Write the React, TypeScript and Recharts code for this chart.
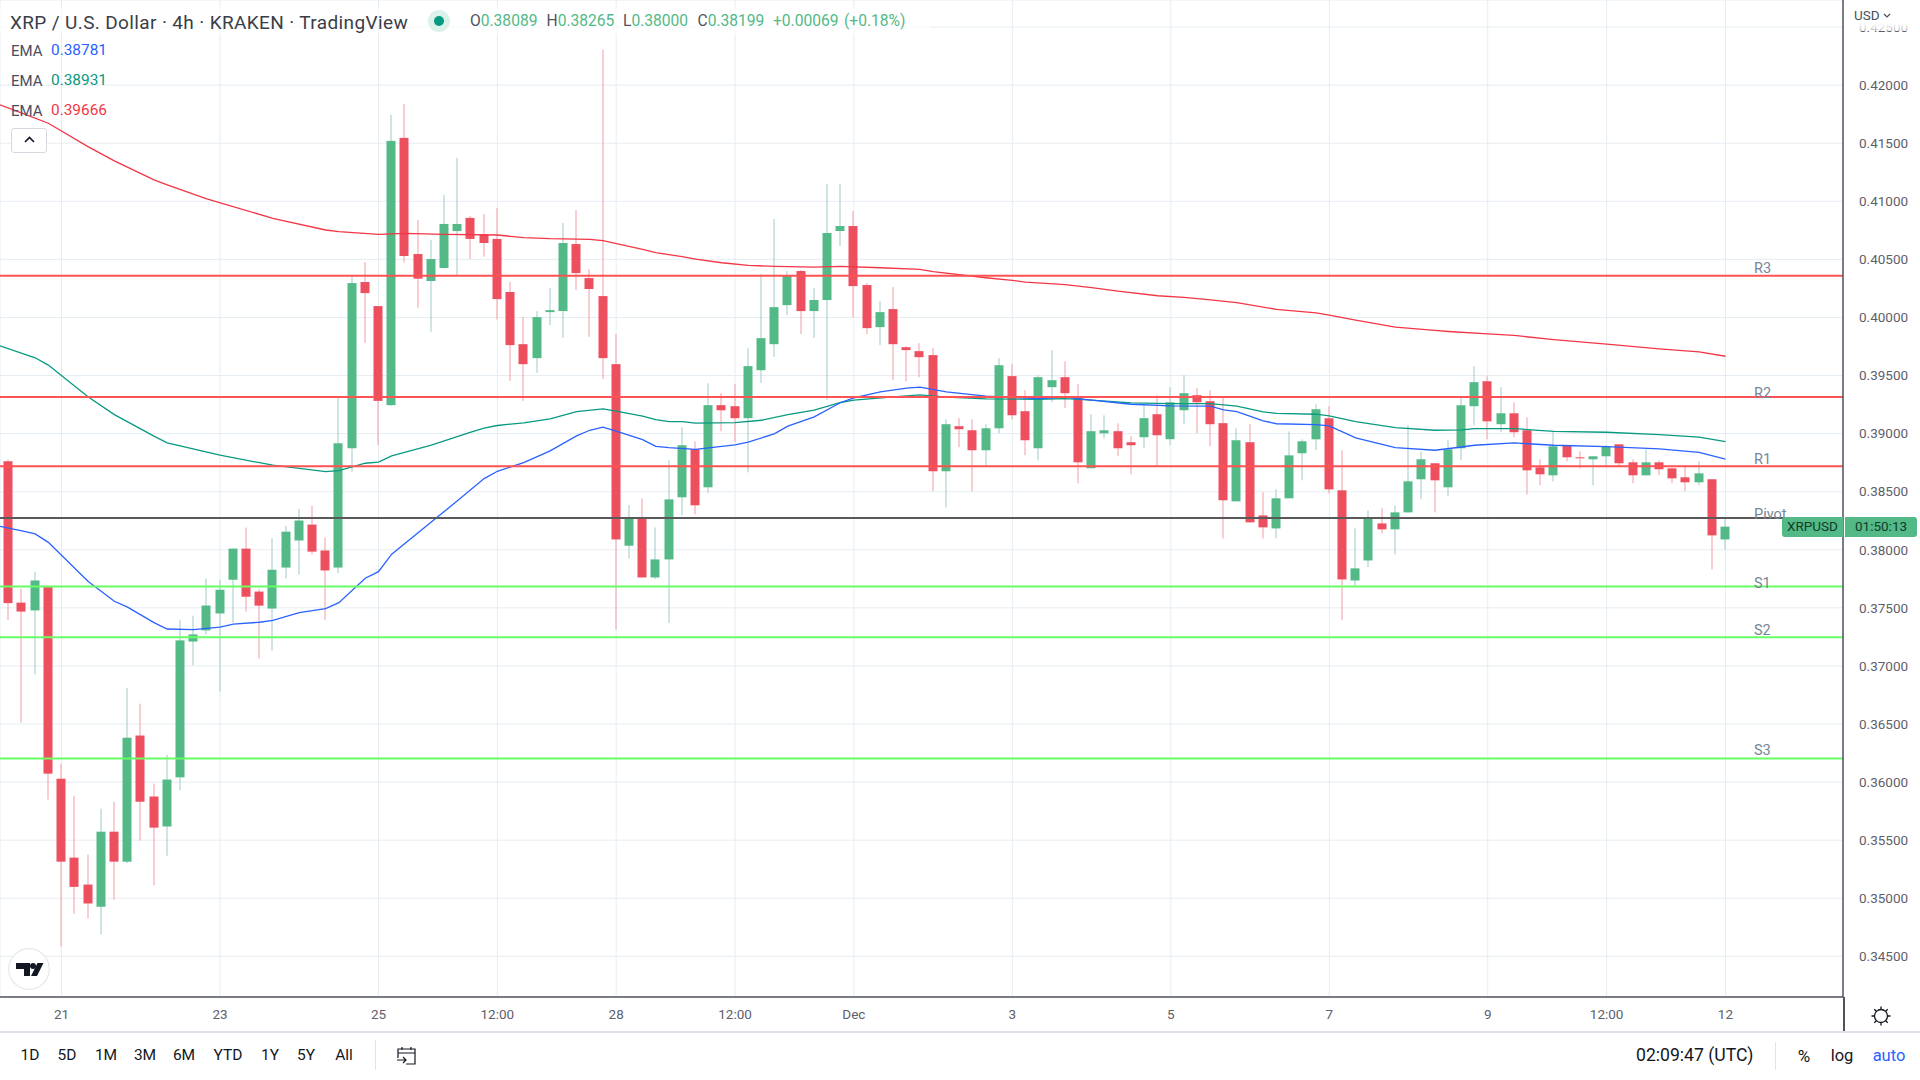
import React from 'react';
import {
  Bar,
  CartesianGrid,
  ComposedChart,
  Line,
  ReferenceLine,
  XAxis,
  YAxis,
} from 'recharts';

const FONT = 'Roboto, sans-serif';
const UP = '#53b987';
const DOWN = '#ee4f5f';

const opens = [
  0.38762, 0.37545, 0.37478, 0.37688, 0.36029, 0.3535, 0.35118, 0.34927, 0.35573, 0.35315, 0.36401,
  0.35876, 0.35618, 0.36041, 0.3721, 0.37306, 0.37452, 0.37742, 0.3801, 0.3764, 0.37494, 0.37847,
  0.3808, 0.38217, 0.37994, 0.37847, 0.38874, 0.40305, 0.40098, 0.39245, 0.41546, 0.40546, 0.40314,
  0.40426, 0.40744, 0.40857, 0.40716, 0.40676, 0.40219, 0.3977, 0.3965, 0.40046, 0.40055, 0.40632,
  0.40339, 0.40184, 0.39598, 0.38035, 0.38271, 0.37762, 0.37917, 0.38452, 0.38865, 0.38538, 0.39245,
  0.39236, 0.39133, 0.39546, 0.3977, 0.40106, 0.404, 0.40055, 0.4015, 0.40744, 0.40787, 0.40279,
  0.39917, 0.40072, 0.39744, 0.3971, 0.39676, 0.38676, 0.39064, 0.39029, 0.38857, 0.39046, 0.39495,
  0.39193, 0.38874, 0.394, 0.39486, 0.39322, 0.38702, 0.39003, 0.39021, 0.38926, 0.38969, 0.39167,
  0.38952, 0.39201, 0.39331, 0.39279, 0.3909, 0.38417, 0.38926, 0.38296, 0.38184, 0.38443, 0.38831,
  0.38951, 0.39132, 0.38512, 0.37736, 0.37908, 0.38227, 0.38176, 0.38322, 0.38607, 0.38745, 0.38538,
  0.38874, 0.39236, 0.39451, 0.39081, 0.39175, 0.39029, 0.3871, 0.38641, 0.389, 0.38796, 0.38779,
  0.38805, 0.38908, 0.38753, 0.38641, 0.38753, 0.38701, 0.38624, 0.38581, 0.38607, 0.38089,
];
const highs = [
  0.38775, 0.37666, 0.37812, 0.37688, 0.36159, 0.35882, 0.35376, 0.35771, 0.35831, 0.3681, 0.36675,
  0.35987, 0.36236, 0.37395, 0.37433, 0.37752, 0.37742, 0.3801, 0.38191, 0.37659, 0.38099, 0.38207,
  0.38354, 0.38379, 0.38105, 0.39317, 0.40357, 0.40477, 0.40098, 0.41744, 0.41839, 0.40839, 0.40667,
  0.41055, 0.41374, 0.40874, 0.40891, 0.40943, 0.40305, 0.40006, 0.40055, 0.40253, 0.40813, 0.40925,
  0.40417, 0.42305, 0.39857, 0.38385, 0.38443, 0.38193, 0.38771, 0.39055, 0.38934, 0.39434, 0.39348,
  0.39426, 0.39736, 0.40374, 0.40848, 0.404, 0.40408, 0.40253, 0.41149, 0.41149, 0.40917, 0.40296,
  0.40141, 0.40262, 0.39753, 0.39779, 0.39736, 0.39124, 0.39133, 0.39124, 0.39081, 0.3965, 0.39598,
  0.39374, 0.39503, 0.39719, 0.39624, 0.39426, 0.39167, 0.39158, 0.39089, 0.38977, 0.39245, 0.39331,
  0.394, 0.39503, 0.39391, 0.39374, 0.39314, 0.39046, 0.39081, 0.38495, 0.38521, 0.3902, 0.38951,
  0.39253, 0.39236, 0.38857, 0.38184, 0.38339, 0.38357, 0.38382, 0.39072, 0.38848, 0.38745, 0.38943,
  0.39322, 0.39581, 0.39494, 0.394, 0.3927, 0.39141, 0.38779, 0.3902, 0.389, 0.38848, 0.38805, 0.389,
  0.38908, 0.38779, 0.38865, 0.3877, 0.38701, 0.38719, 0.38762, 0.38607, 0.38265,
];
const lows = [
  0.37395, 0.36513, 0.36927, 0.3585, 0.34586, 0.34866, 0.34825, 0.34691, 0.34987, 0.35302, 0.35497,
  0.35111, 0.35366, 0.3593, 0.37006, 0.37271, 0.3678, 0.37373, 0.37468, 0.37064, 0.3713, 0.37752,
  0.37787, 0.37959, 0.37398, 0.37799, 0.3867, 0.39782, 0.389, 0.3924, 0.40472, 0.40084, 0.39877, 0.4042,
  0.40357, 0.40503, 0.40523, 0.39983, 0.39454, 0.39282, 0.39523, 0.39934, 0.39825, 0.40239, 0.39834,
  0.39469, 0.37312, 0.37924, 0.3776, 0.37748, 0.37369, 0.38297, 0.38305, 0.38489, 0.39021, 0.38926,
  0.38667, 0.39437, 0.39661, 0.4002, 0.39857, 0.39822, 0.3929, 0.40615, 0.40003, 0.39857, 0.39762,
  0.3946, 0.39451, 0.39486, 0.38503, 0.38365, 0.38883, 0.38503, 0.38713, 0.39003, 0.39124, 0.38814,
  0.3877, 0.3927, 0.39219, 0.38572, 0.38702, 0.3896, 0.38805, 0.3865, 0.38874, 0.38719, 0.389, 0.39081,
  0.39003, 0.38891, 0.38098, 0.38417, 0.38236, 0.38098, 0.38098, 0.38598, 0.38598, 0.38857, 0.38486,
  0.37394, 0.37679, 0.37851, 0.38141, 0.3796, 0.38322, 0.38434, 0.38322, 0.3846, 0.3877, 0.39072,
  0.38951, 0.39012, 0.38969, 0.38477, 0.38555, 0.38589, 0.38762, 0.38701, 0.38555, 0.38727, 0.3871,
  0.38572, 0.38641, 0.38641, 0.38572, 0.38503, 0.38555, 0.37831, 0.38,
];
const closes = [
  0.37541, 0.37468, 0.37736, 0.36073, 0.35315, 0.35098, 0.34955, 0.35573, 0.35315, 0.36382, 0.35831,
  0.35608, 0.36022, 0.3722, 0.37271, 0.3752, 0.37656, 0.3801, 0.37596, 0.37519, 0.37828, 0.38156,
  0.38252, 0.37984, 0.37822, 0.38917, 0.40296, 0.4021, 0.39282, 0.4152, 0.40529, 0.40334, 0.40503,
  0.40805, 0.40805, 0.40676, 0.40641, 0.40158, 0.39762, 0.39598, 0.40003, 0.40063, 0.40641, 0.40382,
  0.40245, 0.3965, 0.38089, 0.38277, 0.37762, 0.37917, 0.38434, 0.389, 0.38383, 0.39245, 0.39201,
  0.39133, 0.39581, 0.39822, 0.40089, 0.40365, 0.40055, 0.4015, 0.40727, 0.40787, 0.4027, 0.39908,
  0.40046, 0.3977, 0.39719, 0.39658, 0.38676, 0.39081, 0.39038, 0.38857, 0.39046, 0.39589, 0.39158,
  0.38943, 0.39486, 0.3946, 0.39348, 0.38753, 0.39021, 0.39029, 0.38874, 0.389, 0.39133, 0.38986,
  0.3927, 0.39348, 0.3927, 0.39081, 0.38426, 0.38943, 0.38236, 0.38193, 0.38443, 0.38813, 0.38934,
  0.3921, 0.3852, 0.37745, 0.3784, 0.3827, 0.38176, 0.38322, 0.38589, 0.38779, 0.38598, 0.38865,
  0.39244, 0.39443, 0.39106, 0.39175, 0.39012, 0.38684, 0.3865, 0.38891, 0.38796, 0.38788, 0.38805,
  0.38891, 0.38745, 0.38641, 0.38753, 0.38693, 0.38615, 0.38581, 0.38658, 0.38124, 0.38199,
];

// EMA lines at the bars where they bend
const emaSlow = [
  [-0.66, 0.4183], [1, 0.41759], [3, 0.41672], [6, 0.41471], [8, 0.41348], [11, 0.41184], [12, 0.41141],
  [15, 0.4102], [20, 0.40854], [24, 0.40753], [25, 0.40739], [28, 0.40716], [30, 0.40724], [33, 0.40716],
  [37, 0.4071], [39, 0.40687], [41, 0.40678], [44, 0.40673], [45, 0.40661], [48, 0.40586], [49, 0.40558],
  [51, 0.40523], [52, 0.40503], [54, 0.40471], [56, 0.40448], [58, 0.4044], [61, 0.40434], [63, 0.4044],
  [66, 0.40428], [69, 0.40414], [70, 0.40394], [74, 0.40342], [76, 0.40319], [77, 0.40305], [80, 0.40282],
  [82, 0.40256], [84, 0.40227], [87, 0.40187], [89, 0.40173], [91, 0.40152], [93, 0.40127], [96, 0.4007],
  [99, 0.4004], [100, 0.4002], [102, 0.39977], [105, 0.39917], [108, 0.39888], [109, 0.39879], [112, 0.39859],
  [114, 0.39845], [117, 0.3981], [121, 0.3977], [125, 0.3973], [128, 0.39704], [130, 0.39666],
];
const emaMid = [
  [-0.66, 0.39756], [2, 0.39653], [3, 0.3959], [6, 0.39317], [8, 0.39164], [11, 0.38978], [12, 0.3892],
  [16, 0.38814], [20, 0.38728], [24, 0.38673], [25, 0.38682], [26, 0.38713], [27, 0.38745], [28, 0.38754],
  [29, 0.38808], [32, 0.389], [35, 0.39012], [36, 0.39047], [37, 0.3907], [39, 0.39093], [41, 0.39127],
  [43, 0.3919], [45, 0.39213], [46, 0.39193], [48, 0.3915], [49, 0.39121], [50, 0.39104], [51, 0.39104],
  [52, 0.3909], [55, 0.39095], [57, 0.39115], [59, 0.39164], [61, 0.39202], [63, 0.39268], [64, 0.39288],
  [67, 0.39316], [69, 0.39334], [71, 0.39314], [74, 0.39299], [78, 0.39296], [80, 0.39302], [82, 0.39288],
  [85, 0.39265], [88, 0.39259], [91, 0.39259], [93, 0.39236], [95, 0.39187], [96, 0.39175], [99, 0.39167],
  [100, 0.39152], [102, 0.39104], [105, 0.39052], [108, 0.39029], [110, 0.39032], [111, 0.39043], [114, 0.39043],
  [117, 0.3902], [121, 0.39012], [125, 0.38992], [128, 0.38969], [130, 0.38931],
];
const emaFast = [
  [-0.66, 0.38201], [1, 0.38162], [2, 0.38137], [3, 0.38064], [6, 0.37729], [8, 0.37557], [9, 0.37506],
  [11, 0.37373], [12, 0.37318], [14, 0.37312], [16, 0.37334], [17, 0.3736], [19, 0.37376], [20, 0.37392],
  [22, 0.37459], [24, 0.37494], [25, 0.37545], [27, 0.37755], [28, 0.37812], [29, 0.37962], [32, 0.38239],
  [34, 0.38424], [36, 0.38613], [37, 0.38676], [39, 0.3875], [41, 0.38851], [43, 0.3898], [44, 0.39029],
  [45, 0.39055], [46, 0.39021], [48, 0.38949], [49, 0.38891], [50, 0.3888], [52, 0.38865], [55, 0.38903],
  [56, 0.38926], [58, 0.39], [59, 0.39064], [61, 0.39144], [63, 0.39268], [64, 0.39308], [66, 0.3936],
  [68, 0.39391], [69, 0.394], [71, 0.3936], [74, 0.39322], [78, 0.39302], [80, 0.39314], [82, 0.39288],
  [85, 0.39253], [88, 0.39239], [91, 0.39236], [92, 0.39204], [93, 0.3919], [95, 0.3911], [96, 0.39085],
  [99, 0.39078], [100, 0.39066], [102, 0.38963], [105, 0.3888], [108, 0.38857], [110, 0.38885], [111, 0.389],
  [114, 0.3892], [117, 0.389], [121, 0.38888], [125, 0.38868], [128, 0.38839], [130, 0.38781],
];

const levels = [
  { name: 'R3', price: 0.40359, color: '#ff5252', lift: 3 },
  { name: 'R2', price: 0.39316, color: '#ff5252', lift: -1 },
  { name: 'R1', price: 0.38719, color: '#ff5252', lift: 2 },
  { name: 'Pivot', price: 0.38273, color: '#595959', lift: -1 },
  { name: 'S1', price: 0.37684, color: '#66ff66', lift: -2 },
  { name: 'S2', price: 0.37248, color: '#66ff66', lift: 2 },
  { name: 'S3', price: 0.36204, color: '#66ff66', lift: 3 },
];

const priceTicks = [
  0.345, 0.35, 0.355, 0.36, 0.365, 0.37, 0.375, 0.38, 0.385, 0.39, 0.395, 0.4, 0.405, 0.41, 0.415, 0.42,
  0.425,
];
const timeTicks = [4, 16, 28, 37, 46, 55, 64, 76, 88, 100, 112, 121, 130];
const timeLabels = ['21', '23', '25', '12:00', '28', '12:00', 'Dec', '3', '5', '7', '9', '12:00', '12'];
const ranges = [
  ['1D', 30], ['5D', 67], ['1M', 106], ['3M', 145], ['6M', 184], ['YTD', 228], ['1Y', 270], ['5Y', 306], ['All', 344],
] as const;
const emaLegend = [
  ['0.38781', '#2962ff', 50.5],
  ['0.38931', '#089981', 80.5],
  ['0.39666', '#f23645', 110.5],
] as const;
const ohlc = [
  ['O', '0.38089', 470],
  ['H', '0.38265', 546.5],
  ['L', '0.38000', 623],
  ['C', '0.38199', 697.5],
] as const;

const candles = opens.map((open, i) => ({ i, open, high: highs[i], low: lows[i], close: closes[i] }));
const toRows = (pairs: number[][]) => pairs.map(([i, v]) => ({ i, v }));

function Candle(props: any) {
  const { x, y, width, height, payload } = props;
  const { open, high, low, close } = payload;
  const perUnit = height / (high - low);
  const top = y + (high - Math.max(open, close)) * perUnit;
  const bodyHeight = Math.max(Math.abs(open - close) * perUnit, 1);
  const up = close >= open;
  const mid = Math.round(x + width / 2);
  return (
    <g>
      <rect x={mid - 0.5} y={y} width={1} height={height} fill={up ? '#a0cbc8' : '#f49da8'} />
      <rect x={mid - 4.5} y={top} width={9} height={bodyHeight} fill={up ? UP : DOWN} />
    </g>
  );
}

function Txt({ x, y, size = 15, color = '#131722', center, spacing, children }: any) {
  return (
    <div
      style={{
        position: 'absolute',
        left: x,
        top: y,
        transform: center ? 'translate(-50%, -50%)' : 'translateY(-50%)',
        fontFamily: FONT,
        fontSize: size,
        letterSpacing: spacing,
        color,
        whiteSpace: 'nowrap',
        lineHeight: 1,
      }}
    >
      {children}
    </div>
  );
}

function Box({ x, y, w, h, style }: any) {
  return <div style={{ position: 'absolute', left: x, top: y, width: w, height: h, ...style }} />;
}

export default function App() {
  return (
    <div style={{ position: 'absolute', left: 0, top: 0, width: 1920, height: 1080, overflow: 'hidden', background: '#fff' }}>
      <ComposedChart
        width={1920}
        height={1031}
        data={candles}
        margin={{ top: 0, right: 0, bottom: 0, left: 0 }}
      >
        <CartesianGrid stroke="#e5edf3" strokeWidth={1} />
        <XAxis
          dataKey="i"
          type="number"
          scale="linear"
          domain={[-0.66, 138.9]}
          ticks={timeTicks}
          tickFormatter={(v) => timeLabels[timeTicks.indexOf(v)]}
          interval={0}
          height={34}
          tickLine={false}
          tickMargin={6.5}
          axisLine={{ stroke: '#50535e', strokeWidth: 1.5 }}
          tick={{ fontFamily: FONT, fontSize: 13.5, fill: '#5d606b' }}
        />
        <YAxis
          orientation="right"
          type="number"
          domain={[0.3415, 0.42733]}
          ticks={priceTicks}
          tickFormatter={(v) => v.toFixed(5)}
          width={77}
          tickLine={false}
          tickMargin={10}
          interval={0}
          axisLine={{ stroke: '#50535e', strokeWidth: 1.5 }}
          tick={{ fontFamily: FONT, fontSize: 13.5, fill: '#5d606b' }}
        />
        <Line data={toRows(emaSlow)} dataKey="v" stroke="#f23645" strokeWidth={1.3} dot={false} activeDot={false} isAnimationActive={false} />
        <Line data={toRows(emaMid)} dataKey="v" stroke="#089981" strokeWidth={1.3} dot={false} activeDot={false} isAnimationActive={false} />
        <Line data={toRows(emaFast)} dataKey="v" stroke="#2962ff" strokeWidth={1.3} dot={false} activeDot={false} isAnimationActive={false} />
        <Bar
          dataKey={(d: any) => [d.low, d.high]}
          barSize={9}
          shape={Candle}
          isAnimationActive={false}
        />
        {levels.map((l) => (
          <ReferenceLine
            key={l.name}
            y={l.price}
            stroke={l.color}
            strokeWidth={2}
            label={({ viewBox }: any) => (
              <text x={1754} y={viewBox.y - l.lift} fontFamily={FONT} fontSize={14.5} fill="#758696">
                {l.name}
              </text>
            )}
          />
        ))}
      </ComposedChart>

      <Box x={1843.25} y={997} w={1.5} h={34} style={{ background: '#50535e' }} />
      <Box x={0} y={1031} w={1920} h={1.5} style={{ background: '#e0e3eb' }} />

      {/* top of the price scale fades out under the currency label */}
      <Box x={1845} y={0} w={75} h={31} style={{ background: 'linear-gradient(#fff 75%, rgba(255,255,255,0.55))' }} />
      <Txt x={1854} y={16} size={13.5} color="#4a4e5c">USD</Txt>
      <svg style={{ position: 'absolute', left: 1883, top: 13 }} width={8} height={6}>
        <path d="M1 1l3 3 3-3" fill="none" stroke="#4a4e5c" strokeWidth={1.2} />
      </svg>

      {/* header */}
      <Box x={0} y={8} w={930} h={26} style={{ background: 'rgba(255,255,255,0.6)' }} />
      <Txt x={10} y={21.5} size={19} spacing={0.37} color="#3b3e47">XRP / U.S. Dollar · 4h · KRAKEN · TradingView</Txt>
      <svg style={{ position: 'absolute', left: 427, top: 9 }} width={24} height={24}>
        <circle cx={12} cy={12} r={11} fill="#dbf1ec" />
        <circle cx={12} cy={12} r={5} fill="#089981" />
      </svg>
      {ohlc.map(([k, v, x]) => (
        <Txt key={k} x={x} y={22} size={15.6} color={UP}>
          <span style={{ color: '#50535e' }}>{k}</span>
          {v}
        </Txt>
      ))}
      <Txt x={773} y={22} size={15.6} color={UP}>+0.00069</Txt>
      <Txt x={844} y={22} size={15.6} color={UP}>(+0.18%)</Txt>

      {emaLegend.map(([v, color, y]) => (
        <React.Fragment key={v}>
          <Txt x={11} y={y} size={15} color="#4a4e5c">EMA</Txt>
          <Txt x={51} y={y} size={15.4} color={color}>{v}</Txt>
        </React.Fragment>
      ))}
      <div
        style={{
          position: 'absolute', left: 11, top: 128, width: 36, height: 25, boxSizing: 'border-box',
          border: '1px solid #d6d8e0', borderRadius: 3, background: '#fff',
        }}
      />
      <svg style={{ position: 'absolute', left: 24, top: 136 }} width={11} height={8}>
        <path d="M1 6l4.5-4.5L10 6" fill="none" stroke="#131722" strokeWidth={1.6} />
      </svg>

      {/* last price tag */}
      <div
        style={{
          position: 'absolute', left: 1782, top: 517, width: 61, height: 20, background: UP,
          borderRadius: '3px 0 0 3px',
        }}
      />
      <div
        style={{
          position: 'absolute', left: 1845, top: 517, width: 72, height: 20, background: UP,
          borderRadius: '0 3px 3px 0',
        }}
      />
      <Txt x={1787} y={527} size={13.5} color="#0f3d2a">XRPUSD</Txt>
      <Txt x={1855} y={527} size={13.5} color="#0f3d2a">01:50:13</Txt>

      {/* TradingView badge */}
      <svg style={{ position: 'absolute', left: 8, top: 948 }} width={42} height={42}>
        <circle cx={21} cy={21} r={20.3} fill="#fff" stroke="#e6e6e6" strokeWidth={1.2} />
        <path d="M8 15h14v13h-6v-7H8z" fill="#131722" />
        <circle cx={25} cy={18} r={3} fill="#131722" />
        <path d="M29.5 15h6l-6.5 13h-6z" fill="#131722" />
      </svg>

      {/* bottom toolbar */}
      {ranges.map(([label, x]) => (
        <Txt key={label} x={x} y={1056} size={15.5} center>{label}</Txt>
      ))}
      <Box x={375} y={1040} w={1} h={30} style={{ background: '#e0e3eb' }} />
      <svg style={{ position: 'absolute', left: 396, top: 1045 }} width={22} height={22} fill="none" stroke="#131722" strokeWidth={1.2}>
        <path d="M2 13V4h17v15h-9M2 8h17M6 2v3M15 2v3M1 15h9M7 12l3 3-3 3" />
      </svg>
      <Txt x={1636} y={1056} size={17.6}>02:09:47 (UTC)</Txt>
      <Box x={1775} y={1042} w={1} h={28} style={{ background: '#e0e3eb' }} />
      <Txt x={1804} y={1056} size={17} center>%</Txt>
      <Txt x={1842} y={1056} size={16.5} center>log</Txt>
      <Txt x={1889} y={1056} size={16.5} color="#2962ff" center>auto</Txt>
      <svg style={{ position: 'absolute', left: 1870, top: 1005 }} width={22} height={22} fill="none" stroke="#131722" strokeWidth={1.3}>
        <circle cx={11} cy={11} r={6.5} />
        <path d="M11 1.5v3M11 17.5v3M1.5 11h3M17.5 11h3M4.3 4.3l2 2M15.7 15.7l2 2M4.3 17.7l2-2M15.7 6.3l2-2" />
      </svg>
    </div>
  );
}
